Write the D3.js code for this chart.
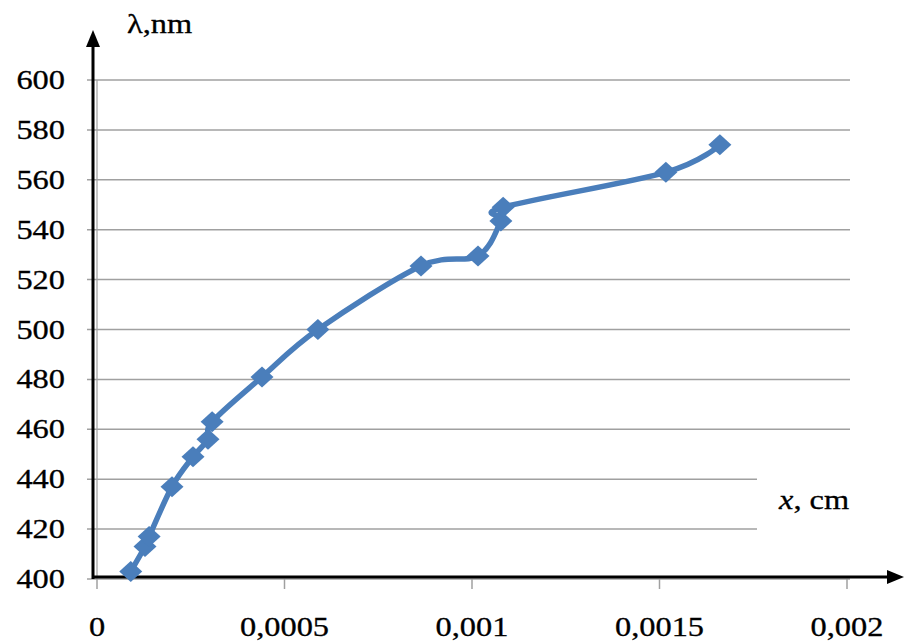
<!DOCTYPE html>
<html><head><meta charset="utf-8">
<script src="https://cdn.jsdelivr.net/npm/d3@7"></script>
<style>body{margin:0;background:#fff}svg{display:block}</style>
</head><body>
<svg id="c" width="905" height="641"></svg>
<script>
const xValues = [0.00009, 0.000128, 0.000139, 0.0002, 0.000256, 0.000296, 0.000307, 0.00044, 0.000589, 0.000864, 0.001016, 0.001077, 0.001083, 0.001517, 0.001661];
const yValues = [403, 413, 417, 437, 449, 456, 463, 481, 500, 525.5, 529.5, 543.5, 549, 563, 574];
const xTicks = [0, 0.0005, 0.001, 0.0015, 0.002];
const xTickLabels = ["0", "0,0005", "0,001", "0,0015", "0,002"];
const yTicks = [400, 420, 440, 460, 480, 500, 520, 540, 560, 580, 600];
const shortGrid = [420, 440];
const yTitle = "λ,nm";

const svg = d3.select("#c");
const x = d3.scaleLinear().domain([0, 0.002]).range([97, 847]);
const y = d3.scaleLinear().domain([400, 600]).range([579, 80]);
const FONT = "'Liberation Serif','Times New Roman',serif";
const SX = 1.2;

function stretchedText(g, tx, ty, str, anchor, size) {
  const t = g.append("g").attr("transform", `translate(${tx},${ty}) scale(${SX},1)`);
  return t.append("text").attr("text-anchor", anchor).attr("font-family", FONT)
    .attr("font-size", size).attr("fill", "#000").attr("stroke", "#000").attr("stroke-width", 0.3).text(str);
}

const grid = svg.append("g");
yTicks.forEach(v => {
  grid.append("line")
    .attr("x1", 87).attr("x2", shortGrid.includes(v) ? x(0.00176) : x(0.002) + 3)
    .attr("y1", y(v)).attr("y2", y(v))
    .attr("stroke", "#a0a0a0").attr("stroke-width", 1.5);
});
grid.append("line").attr("x1", x(0)).attr("x2", x(0)).attr("y1", y(600)).attr("y2", y(400))
  .attr("stroke", "#a0a0a0").attr("stroke-width", 1.2);
xTicks.forEach(v => {
  grid.append("line").attr("x1", x(v)).attr("x2", x(v)).attr("y1", 579).attr("y2", 589)
    .attr("stroke", "#a0a0a0").attr("stroke-width", 1.5);
});

svg.append("line").attr("x1", 93).attr("x2", 93).attr("y1", 579).attr("y2", 44)
  .attr("stroke", "#000").attr("stroke-width", 3);
svg.append("path").attr("d", "M93,30 L86,47 L100,47 Z").attr("fill", "#000");
svg.append("line").attr("x1", 92).attr("x2", 890).attr("y1", 577).attr("y2", 577)
  .attr("stroke", "#000").attr("stroke-width", 3);
svg.append("path").attr("d", "M904,577 L887,570 L887,584 Z").attr("fill", "#000");

const lab = svg.append("g");
yTicks.forEach(v => stretchedText(lab, 65, y(v) + 9, String(v), "end", 27));
xTicks.forEach((v, i) => stretchedText(lab, x(v), 636, xTickLabels[i], "middle", 27));

stretchedText(lab, 127, 33, yTitle, "start", 27);
const xt = lab.append("g").attr("transform", `translate(779,509) scale(${SX},1)`)
  .append("text").attr("font-family", FONT).attr("font-size", 27).attr("stroke", "#000").attr("stroke-width", 0.3);
xt.append("tspan").attr("font-style", "italic").text("x");
xt.append("tspan").text(", cm");

const data = xValues.map((d, i) => [d, yValues[i]]);
const blue = "#4A7EBB";
svg.append("path").datum(data)
  .attr("d", d3.line().x(d => x(d[0])).y(d => y(d[1])).curve(d3.curveCardinal.tension(0)))
  .attr("fill", "none").attr("stroke", blue).attr("stroke-width", 5.5)
  .attr("stroke-linejoin", "round").attr("stroke-linecap", "round");
svg.append("g").selectAll("path").data(data).join("path")
  .attr("transform", d => `translate(${x(d[0])},${y(d[1])})`)
  .attr("d", "M0,-10.5 L11.5,0 L0,10.5 L-11.5,0 Z")
  .attr("fill", blue);
</script>
</body></html>
